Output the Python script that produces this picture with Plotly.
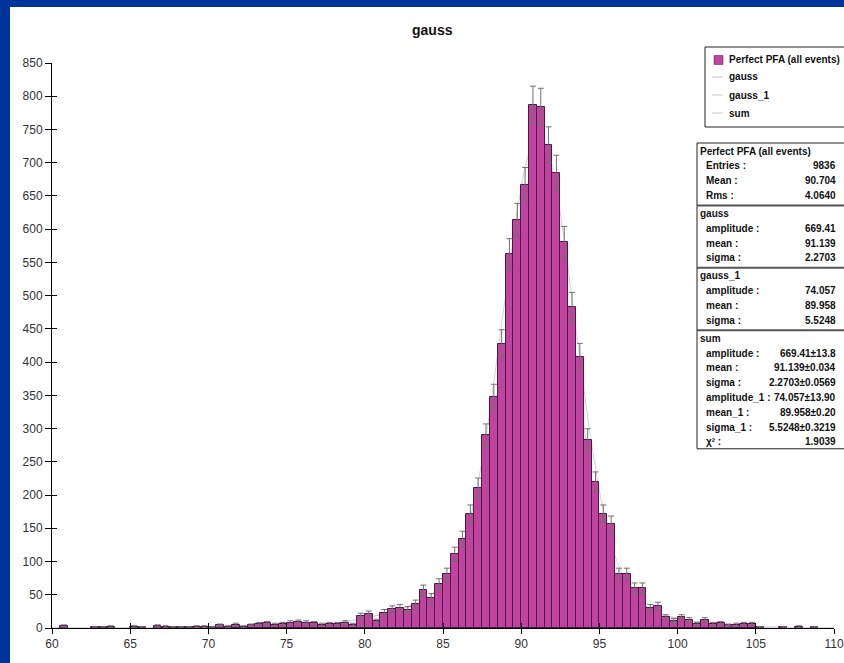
import numpy as np
import plotly.graph_objects as go

# ---------------- data ----------------
bin_start = 60.0
bin_width = 0.5
counts = [
    0, 3, 0, 0, 0, 1, 1, 2, 0, 0,          # 60.0 - 64.5
    2, 1, 0, 3, 2, 1, 1, 1, 2, 2,          # 65.0 - 69.5
    1, 4, 2, 5, 2, 4, 6, 7, 5, 6,          # 70.0 - 74.5
    8, 9, 8, 7, 5, 6, 6, 8, 5, 18,         # 75.0 - 79.5
    21, 10, 23, 28, 30, 27, 36, 57, 45, 66,  # 80.0 - 84.5
    81, 111, 134, 172, 211, 290, 348, 428, 562, 614,  # 85.0 - 89.5
    667, 787, 784, 727, 685, 580, 483, 408, 283, 220,  # 90.0 - 94.5
    172, 156, 81, 81, 60, 60, 30, 33, 16, 11,   # 95.0 - 99.5
    16, 12, 6, 12, 6, 7, 4, 5, 6, 6,            # 100.0 - 104.5
    1, 0, 0, 1, 0, 2, 0, 1, 0, 0,               # 105.0 - 109.5
]

# fit parameters (as printed in the statistics box)
gauss_par = dict(amplitude=669.41, mean=91.139, sigma=2.2703)
gauss1_par = dict(amplitude=74.057, mean=89.958, sigma=5.5248)

legend_names = ["Perfect PFA (all events)", "gauss", "gauss_1", "sum"]

stats_sections = [
    ("Perfect PFA (all events)", [("Entries :", "9836"), ("Mean :", "90.704"), ("Rms :", "4.0640")]),
    ("gauss", [("amplitude :", "669.41"), ("mean :", "91.139"), ("sigma :", "2.2703")]),
    ("gauss_1", [("amplitude :", "74.057"), ("mean :", "89.958"), ("sigma :", "5.5248")]),
    ("sum", [("amplitude :", "669.41±13.8"), ("mean :", "91.139±0.034"),
             ("sigma :", "2.2703±0.0569"), ("amplitude_1 :", "74.057±13.90"),
             ("mean_1 :", "89.958±0.20"), ("sigma_1 :", "5.5248±0.3219"),
             ("χ² :", "1.9039")]),
]

y_ticks = list(range(0, 851, 50))
x_ticks = list(range(60, 111, 5))

# ---------------- geometry helpers ----------------
W, H = 844, 663
ML, MR, MT, MB = 52, 10, 63, 35
PW, PH = W - ML - MR, H - MT - MB


def px_x(p):
    return (p - ML) / PW


def px_y(p):
    return (H - MB - p) / PH


centers = [bin_start + bin_width * (i + 0.5) for i in range(len(counts))]
errs = [float(np.sqrt(c)) for c in counts]
bar_y = [c if c > 0 else None for c in counts]

BAR_COLOR = "#c0449e"
BAR_EDGE = "#4a1848"
FIT_COLOR = "#d2d2d2"

fig = go.Figure()

# histogram on the overlay axes so it is drawn above the fit curves
fig.add_trace(go.Bar(
    x=centers, y=bar_y, width=bin_width, xaxis="x2", yaxis="y2",
    name=legend_names[0], showlegend=False,
    marker=dict(color=BAR_COLOR, line=dict(color=BAR_EDGE, width=1)),
    error_y=dict(type="data", array=errs, visible=True,
                 color="#707070", thickness=1, width=3),
    hoverinfo="x+y",
))

xf = np.linspace(60, 110, 801)


def gauss(x, p):
    return p["amplitude"] * np.exp(-0.5 * ((x - p["mean"]) / p["sigma"]) ** 2)


g0 = gauss(xf, gauss_par)
g1 = gauss(xf, gauss1_par)
for name, yy in zip(legend_names[1:], [g0, g1, g0 + g1]):
    fig.add_trace(go.Scatter(x=xf, y=yy, mode="lines", name=name, showlegend=False,
                             line=dict(color=FIT_COLOR, width=1),
                             hoverinfo="skip"))

tickfont = dict(family="Liberation Sans, Arial, sans-serif", size=12, color="#333333")

fig.update_layout(
    width=W, height=H,
    margin=dict(l=ML, r=MR, t=MT, b=MB, autoexpand=False),
    paper_bgcolor="white", plot_bgcolor="white",
    bargap=0,
    showlegend=False,
    xaxis=dict(range=[60, 110], tickvals=x_ticks, ticks="outside", ticklen=5,
               tickcolor="black", showline=True, linecolor="black", linewidth=1,
               showgrid=False, zeroline=False, tickfont=tickfont),
    yaxis=dict(range=[0, 850], tickvals=y_ticks, ticks="outside", ticklen=6,
               tickcolor="black", showline=True, linecolor="black", linewidth=1,
               showgrid=False, zeroline=False, tickfont=tickfont),
    xaxis2=dict(range=[60, 110], overlaying="x", tickvals=x_ticks, ticks="inside",
                ticklen=5, tickcolor="black", showticklabels=False, showline=False,
                showgrid=False, zeroline=False, side="bottom"),
    yaxis2=dict(range=[0, 850], overlaying="y", tickvals=y_ticks, ticks="inside",
                ticklen=5, tickcolor="black", showticklabels=False, showline=False,
                showgrid=False, zeroline=False, side="left"),
)

shapes = []
annotations = []

# blue frame (top and left)
blue = "#00339c"
shapes.append(dict(type="rect", xref="paper", yref="paper", x0=px_x(-5), x1=px_x(850),
                   y0=px_y(7), y1=px_y(-5), fillcolor=blue, line=dict(width=0), layer="above"))
shapes.append(dict(type="rect", xref="paper", yref="paper", x0=px_x(-5), x1=px_x(10),
                   y0=px_y(670), y1=px_y(-5), fillcolor=blue, line=dict(width=0), layer="above"))

# title
annotations.append(dict(text="<b>gauss</b>", xref="paper", yref="paper",
                        x=px_x(432), y=px_y(30), xanchor="center", yanchor="middle",
                        showarrow=False,
                        font=dict(family="Liberation Sans, Arial, sans-serif", size=14,
                                  color="#111111")))

textfont = dict(family="Liberation Sans, Arial, sans-serif", size=10, color="#111111")

# legend box (drawn as shapes + text)
leg_left, leg_top, leg_bottom = 705, 47, 127
leg_rows = [60, 77, 95, 113]
shapes.append(dict(type="rect", xref="paper", yref="paper",
                   x0=px_x(leg_left), x1=px_x(860), y0=px_y(leg_bottom), y1=px_y(leg_top),
                   fillcolor="white", line=dict(color="#222222", width=1), layer="above"))
for i, (name, ry) in enumerate(zip(legend_names, leg_rows)):
    if i == 0:
        shapes.append(dict(type="rect", xref="paper", yref="paper",
                           x0=px_x(714), x1=px_x(723), y0=px_y(ry + 4.5), y1=px_y(ry - 4.5),
                           fillcolor=BAR_COLOR, line=dict(color=BAR_EDGE, width=0.5),
                           layer="above"))
    else:
        shapes.append(dict(type="line", xref="paper", yref="paper",
                           x0=px_x(712), x1=px_x(723), y0=px_y(ry), y1=px_y(ry),
                           line=dict(color="#c8c8c8", width=1), layer="above"))
    annotations.append(dict(text="<b>" + name + "</b>", xref="paper", yref="paper",
                            x=px_x(727), y=px_y(ry), xanchor="left", yanchor="middle",
                            showarrow=False, font=textfont))

# statistics box
box_left, box_top = 697, 143
row_h = 14.8
sec_gap = 8
y = box_top + 8
sep_ys = []
for si, (title, rows) in enumerate(stats_sections):
    annotations.append(dict(text="<b>" + title + "</b>", xref="paper", yref="paper",
                            x=px_x(box_left + 1), y=px_y(y), xanchor="left",
                            yanchor="middle", showarrow=False, font=textfont))
    for label, val in rows:
        y += row_h
        annotations.append(dict(text="<b>" + label + "</b>", xref="paper", yref="paper",
                                x=px_x(box_left + 7), y=px_y(y), xanchor="left",
                                yanchor="middle", showarrow=False, font=textfont))
        annotations.append(dict(text="<b>" + val + "</b>", xref="paper", yref="paper",
                                x=px_x(838), y=px_y(y), xanchor="right",
                                yanchor="middle", showarrow=False, font=textfont))
    sep = y + 10
    sep_ys.append(sep)
    y = sep + sec_gap

box_bottom = sep_ys[-1] - 3
shapes.append(dict(type="rect", xref="paper", yref="paper",
                   x0=px_x(box_left), x1=px_x(860), y0=px_y(box_bottom), y1=px_y(box_top),
                   fillcolor="white", line=dict(color="#222222", width=1), layer="below"))
for sy in sep_ys[:-1]:
    shapes.append(dict(type="line", xref="paper", yref="paper",
                       x0=px_x(box_left), x1=px_x(860), y0=px_y(sy), y1=px_y(sy),
                       line=dict(color="#555555", width=2)))

fig.update_layout(shapes=shapes, annotations=annotations)

fig.write_html("out.html",
               config={"displayModeBar": False},
               post_script="document.body.style.margin='0px';"
                           "document.body.style.overflow='hidden';")
